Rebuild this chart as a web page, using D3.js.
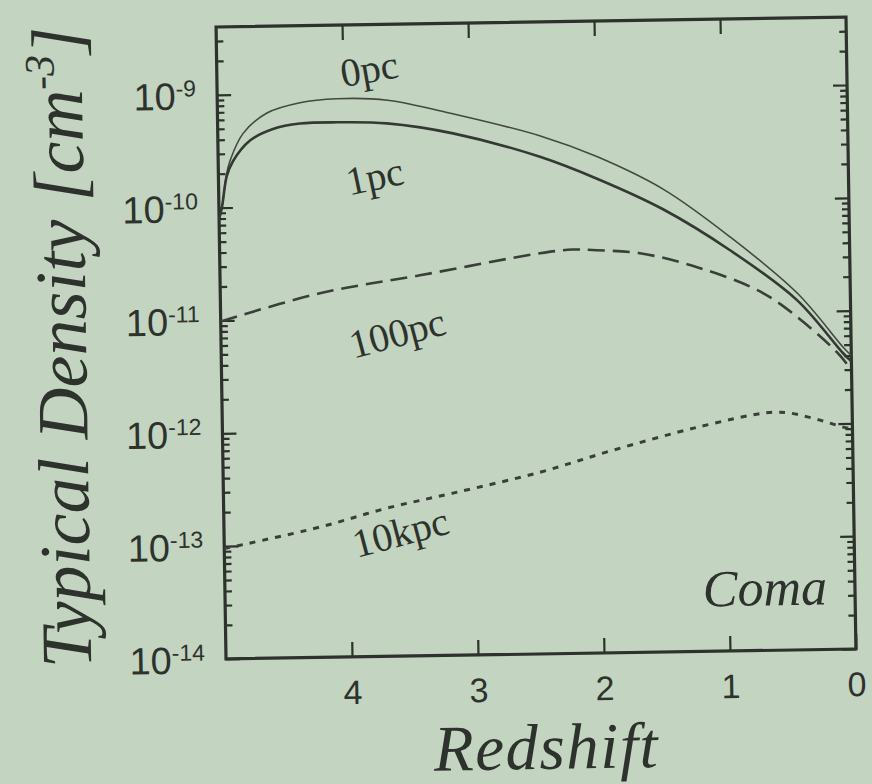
<!DOCTYPE html>
<html><head><meta charset="utf-8">
<script src="https://cdn.jsdelivr.net/npm/d3@7"></script>
<style>html,body{margin:0;padding:0;background:#c3d4c1;} svg{display:block}</style>
</head><body><svg id="chart" width="872" height="784"></svg>
<script>
// ---------- data ----------
const xTickValues = [4, 3, 2, 1, 0];
const yMajorTicks = [1e-14, 1e-13, 1e-12, 1e-11, 1e-10, 1e-9];
const yTickExponents = ["-14", "-13", "-12", "-11", "-10", "-9"];

const z0pc = [5, 4.975, 4.934, 4.906, 4.80, 4.607, 4.344, 4.05, 3.65, 3.13, 2.44, 1.99, 1.47, 0.95, 0.42, 0.06, 0];
const n0pc = [7.9e-11, 1.02e-10, 2.0e-10, 2.6e-10, 4.5e-10, 6.8e-10, 8.3e-10, 8.9e-10, 8.5e-10, 6.3e-10, 3.9e-10, 2.5e-10, 1.26e-10, 4.7e-11, 1.45e-11, 4.7e-12, 4.0e-12];

const z1pc = [5, 4.975, 4.934, 4.883, 4.745, 4.561, 4.346, 4.05, 3.656, 3.133, 2.446, 1.996, 1.476, 0.949, 0.424, 0.065, 0];
const n1pc = [7.9e-11, 1.02e-10, 1.9e-10, 2.57e-10, 3.9e-10, 4.9e-10, 5.43e-10, 5.5e-10, 5.3e-10, 4.23e-10, 2.55e-10, 1.6e-10, 8.4e-11, 3.56e-11, 1.26e-11, 4.2e-12, 3.55e-12];

const z100pc = [5, 4.209, 3.413, 2.458, 2.2, 2.005, 1.664, 1.213, 0.693, 0.301, 0.089, 0];
const n100pc = [9.8e-12, 1.69e-11, 2.36e-11, 3.56e-11, 3.8e-11, 3.72e-11, 3.45e-11, 2.55e-11, 1.47e-11, 6.8e-12, 4.0e-12, 2.95e-12];

const z10kpc = [5, 4.238, 3.704, 3.178, 2.485, 1.903, 1.233, 0.708, 0.6, 0.494, 0.256, 0.075, 0];
const n10kpc = [9.5e-14, 1.43e-13, 2.06e-13, 2.74e-13, 4.08e-13, 6.25e-13, 9.7e-13, 1.27e-12, 1.29e-12, 1.26e-12, 1.08e-12, 9.3e-13, 8.9e-13];

const seriesNames = ["0pc", "1pc", "100pc", "10kpc"];
const labelZ = [3.79, 3.76, 3.6, 3.6];
const labelN = [1.62e-9, 1.8e-10, 7.3e-12, 1.25e-13];

// ---------- layout / style ----------
const W = 872, H = 784;
const L = 221, R = 851, T = 22, B = 654;
const ink = "#2d322c";
const lineStyles = [
  {w: 1.6, dash: null, col: "#434941"},
  {w: 2.6, dash: null, col: "#343a33"},
  {w: 2.6, dash: "17,8", col: "#3a4039"},
  {w: 3.0, dash: "6,7", col: "#3a4039"}
];
const labelAngles = [-9, -11, -14, -14];
const sans = "'Liberation Sans', Arial, Helvetica, sans-serif";
const serif = "'Liberation Serif', 'Times New Roman', Times, serif";

const svg = d3.select("#chart");
svg.append("rect").attr("width", W).attr("height", H).attr("fill", "#c3d4c1");
const g = svg.append("g").attr("transform", "rotate(-0.9, 536, 338)");

const x = d3.scaleLinear().domain([5, 0]).range([L, R]);
const y = d3.scaleLog().domain([1e-14, 4e-9]).range([B, T]);

const minorTicks = [];
for (let k = -14; k <= -9; k++) for (let m = 2; m <= 9; m++) {
  const v = m * Math.pow(10, k);
  if (v < 4e-9) minorTicks.push(v);
}

function styleAxis(sel) {
  sel.select(".domain").remove();
  sel.selectAll(".tick line").attr("stroke", ink).attr("stroke-width", 2.2);
}

// bottom axis
const xb = g.append("g").attr("transform", `translate(0,${B})`)
  .call(d3.axisBottom(x).tickValues(xTickValues).tickSize(-15).tickPadding(23).tickFormat(d3.format("d")));
styleAxis(xb);
xb.selectAll("text").attr("font-family", sans).attr("font-size", 34).attr("fill", ink);
// top axis
const xt = g.append("g").attr("transform", `translate(0,${T})`)
  .call(d3.axisTop(x).tickValues([4, 3, 2, 1]).tickSize(-15).tickFormat(""));
styleAxis(xt);

// left axis major
const yl = g.append("g").attr("transform", `translate(${L},0)`)
  .call(d3.axisLeft(y).tickValues(yMajorTicks).tickSize(-14).tickPadding(21).tickFormat(""));
styleAxis(yl);
yl.selectAll(".tick text").each(function(d) {
  const t = d3.select(this).attr("font-family", sans).attr("font-size", 38).attr("fill", ink)
    .attr("dy", "0.36em").attr("text-anchor", "end");
  t.text(null);
  t.append("tspan").text("10");
  t.append("tspan").attr("font-size", 23).attr("dy", -13).text(yTickExponents[yMajorTicks.indexOf(d)]);
});
const ylm = g.append("g").attr("transform", `translate(${L},0)`)
  .call(d3.axisLeft(y).tickValues(minorTicks).tickSize(-7).tickFormat(""));
styleAxis(ylm);
// right axis
const yr = g.append("g").attr("transform", `translate(${R},0)`)
  .call(d3.axisRight(y).tickValues(yMajorTicks).tickSize(-14).tickFormat(""));
styleAxis(yr);
const yrm = g.append("g").attr("transform", `translate(${R},0)`)
  .call(d3.axisRight(y).tickValues(minorTicks).tickSize(-7).tickFormat(""));
styleAxis(yrm);

// frame
g.append("rect").attr("x", L).attr("y", T).attr("width", R - L).attr("height", B - T)
  .attr("fill", "none").attr("stroke", ink).attr("stroke-width", 3.2);

// curves
const seriesZ = [z0pc, z1pc, z100pc, z10kpc];
const seriesN = [n0pc, n1pc, n100pc, n10kpc];
const line = d3.line().x(d => x(d[0])).y(d => y(d[1])).curve(d3.curveCatmullRom.alpha(0.5));
seriesNames.forEach((name, i) => {
  const pts = seriesZ[i].map((z, j) => [z, seriesN[i][j]]);
  const st = lineStyles[i];
  g.append("path").datum(pts).attr("d", line).attr("fill", "none")
    .attr("stroke", st.col).attr("stroke-width", st.w)
    .attr("stroke-dasharray", st.dash).attr("stroke-linecap", "butt");
  g.append("text")
    .attr("transform", `translate(${x(labelZ[i])},${y(labelN[i])}) rotate(${labelAngles[i]})`)
    .attr("text-anchor", "middle").attr("dominant-baseline", "central")
    .attr("font-family", serif).attr("font-size", 40).attr("fill", ink).text(name);
});

// Coma annotation
g.append("text").attr("x", 823).attr("y", 609).attr("text-anchor", "end")
  .attr("font-family", serif).attr("font-style", "italic").attr("font-size", 52).attr("fill", ink).text("Coma");

// axis titles
g.append("text").attr("x", 540).attr("y", 769).attr("text-anchor", "middle")
  .attr("font-family", serif).attr("font-style", "italic").attr("font-size", 65)
  .attr("letter-spacing", 1.5).attr("fill", ink).text("Redshift");

const yt = g.append("text").attr("transform", "translate(86,340) rotate(-90)").attr("text-anchor", "middle")
  .attr("font-family", serif).attr("font-style", "italic").attr("font-size", 72).attr("fill", ink);
yt.append("tspan").text("Typical Density [cm");
yt.append("tspan").attr("font-size", 42).attr("dy", -28).text("-3");
yt.append("tspan").attr("dy", 28).text("]");
</script>
</body></html>
